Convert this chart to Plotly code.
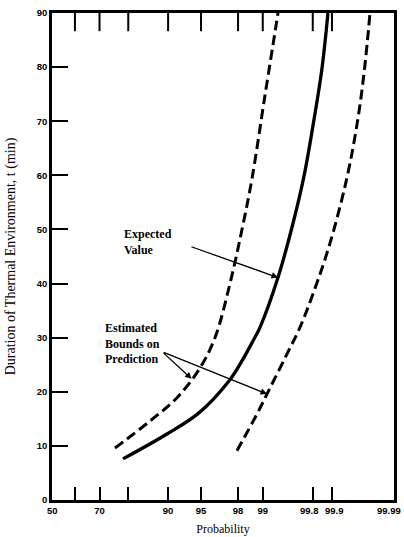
from statistics import NormalDist
import plotly.graph_objects as go

# ---------------- data (probability in %, duration in min) ----------------
expected_prob = [78.34, 89.78, 94.76, 97.46, 98.20, 98.674, 98.916, 99.369, 99.609, 99.729, 99.808, 99.856, 99.884]
expected_t    = [7.6, 12.2, 16.1, 22.0, 25.7, 29.4, 31.9, 41.1, 51.1, 59.8, 70.2, 79.8, 90.0]

lower_prob = [75.66, 86.03, 91.62, 94.88, 96.40, 97.527, 98.201, 98.636, 99.064, 99.316, 99.369]
lower_t    = [9.6, 14.6, 18.9, 24.4, 30.0, 40.0, 50.0, 59.4, 74.8, 86.9, 90.0]

upper_prob = [97.94, 98.818, 99.194, 99.526, 99.690, 99.802, 99.892, 99.943, 99.963, 99.972, 99.9776]
upper_t    = [9.1, 15.9, 20.7, 27.0, 31.9, 38.1, 47.4, 59.4, 70.2, 79.8, 90.0]

# tick marks on the probability axis, with their labels ("" = unlabelled mark)
mark_probs  = [60, 70, 80, 90, 95, 98, 99, 99.8, 99.9]
mark_labels = ["", "70", "", "90", "95", "98", "99", "", ""]
# labels set separately (no mark at 50 / 99.99, and the crowded 99.8 / 99.9 pair)
extra_label_probs = [50, 99.8, 99.9, 99.99]
extra_label_texts = ["50", "99.8", "99.9", "99.99"]
extra_label_shift = [0, -3, 3, 0]
y_ticks = [0, 10, 20, 30, 40, 50, 60, 70, 80, 90]
Y_RANGE = [0, 90]
X_RANGE = [0, 3.775]

nd = NormalDist()
def z(p):
    return nd.inv_cdf(p / 100.0)

def curve_at(probs, ts, t):
    """z position of a curve at duration t (linear interpolation)."""
    zs = [z(p) for p in probs]
    for i in range(len(ts) - 1):
        if ts[i] <= t <= ts[i + 1]:
            f = (t - ts[i]) / (ts[i + 1] - ts[i])
            return zs[i] + f * (zs[i + 1] - zs[i])
    return zs[-1]

fig = go.Figure()
dash_line = dict(color="black", width=3, shape="spline", smoothing=1.0, dash="10px,5px")
fig.add_trace(go.Scatter(x=[z(p) for p in lower_prob], y=lower_t, mode="lines",
                         line=dash_line, showlegend=False))
fig.add_trace(go.Scatter(x=[z(p) for p in expected_prob], y=expected_t, mode="lines",
                         line=dict(color="black", width=3.3, shape="spline", smoothing=1.0),
                         showlegend=False))
fig.add_trace(go.Scatter(x=[z(p) for p in upper_prob], y=upper_t, mode="lines",
                         line=dash_line, showlegend=False))
# tick marks hanging from the top frame (vertical line markers clipped at the plot edge)
fig.add_trace(go.Scatter(x=[z(p) for p in mark_probs], y=[Y_RANGE[1]] * len(mark_probs),
                         mode="markers", cliponaxis=True, showlegend=False, hoverinfo="skip",
                         marker=dict(symbol="line-ns", size=26, color="black",
                                     line=dict(width=2, color="black"))))

tick_font = dict(family="Liberation Sans", size=9.5, color="black", weight="bold")

for p, txt, sh in zip(extra_label_probs, extra_label_texts, extra_label_shift):
    fig.add_annotation(x=z(p), y=0, xref="x", yref="paper", yanchor="top", xanchor="center",
                       yshift=-3, xshift=sh, showarrow=False, text=txt, font=tick_font)

ann_font = dict(family="Liberation Serif", size=12, color="black", weight="bold")
arrow = dict(showarrow=True, arrowhead=2, arrowsize=1, arrowwidth=1.3, arrowcolor="black",
             axref="x", ayref="y", text="")
# Expected value label + arrow
fig.add_annotation(x=z(78.0), y=47.6, xanchor="left", yanchor="middle", showarrow=False,
                   text="Expected<br>Value", align="left", font=ann_font)
fig.add_annotation(x=curve_at(expected_prob, expected_t, 41.1), y=41.1,
                   ax=z(93.6), ay=46.9, **arrow)
# Estimated bounds label + two arrows
fig.add_annotation(x=z(88.8), y=28.9, xanchor="right", yanchor="middle", showarrow=False,
                   text="Estimated<br>Bounds on<br>Prediction", align="left", font=ann_font)
fig.add_annotation(x=curve_at(lower_prob, lower_t, 22.4), y=22.4,
                   ax=z(88.8), ay=27.4, **arrow)
fig.add_annotation(x=curve_at(upper_prob, upper_t, 19.6), y=19.6,
                   ax=z(88.8), ay=27.4, **arrow)

title_font = dict(family="Liberation Serif", size=14, color="black")

fig.update_layout(
    width=404, height=537,
    margin=dict(l=52, r=10, t=13, b=37),
    plot_bgcolor="white", paper_bgcolor="white",
    xaxis=dict(
        range=X_RANGE, tickmode="array", automargin=False,
        tickvals=[z(p) for p in mark_probs], ticktext=mark_labels, tickangle=0,
        ticks="inside", ticklen=13, tickwidth=2, tickcolor="black",
        showline=True, linewidth=2.5, linecolor="black", mirror=True,
        showgrid=False, zeroline=False, tickfont=tick_font,
        title=dict(text="Probability", font=dict(family="Liberation Serif", size=12, color="black"),
                   standoff=10),
    ),
    yaxis=dict(
        range=Y_RANGE, tickmode="array", tickvals=y_ticks, automargin=False,
        ticks="inside", ticklen=16, tickwidth=2, tickcolor="black",
        showline=True, linewidth=2.5, linecolor="black", mirror=True,
        showgrid=False, zeroline=False, tickfont=tick_font,
        title=dict(text="Duration of Thermal Environment, t (min)", font=title_font, standoff=18),
    ),
)

fig.write_html("out.html")
